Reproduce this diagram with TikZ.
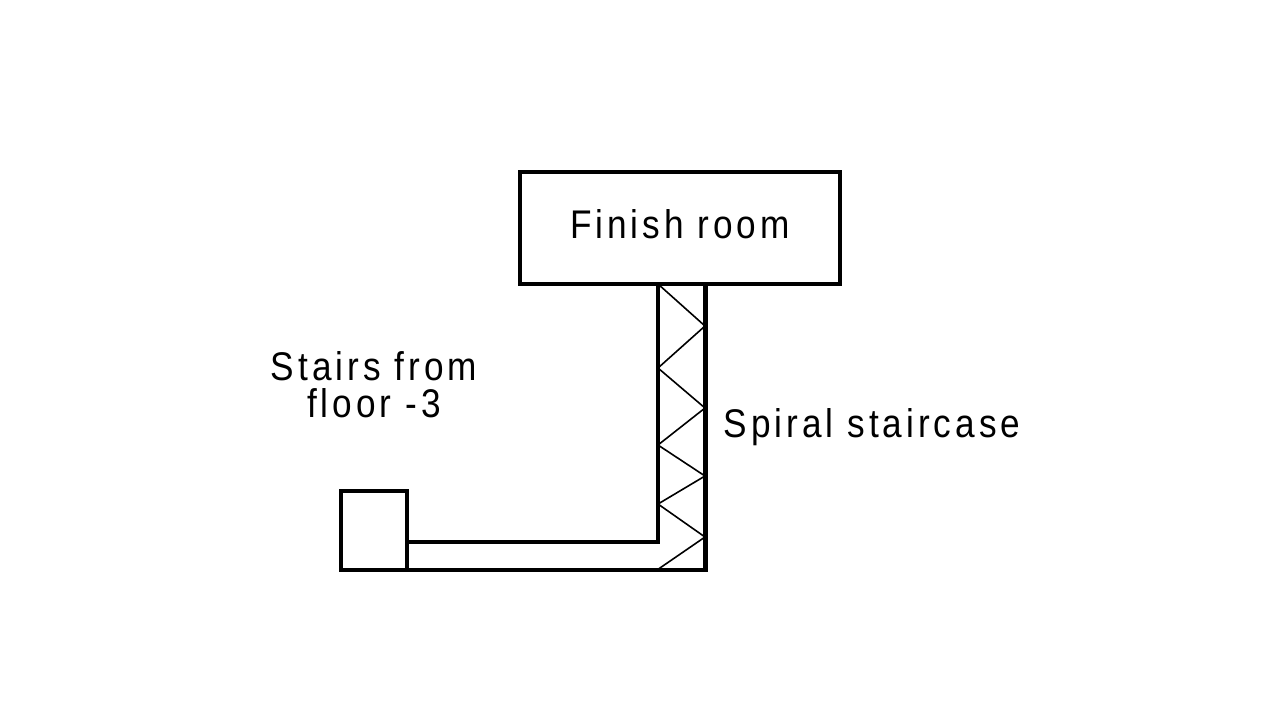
\documentclass[tikz,border=0pt]{standalone}
\usepackage{fontspec}
\setmainfont[LetterSpace=10,FakeStretch=0.88]{Liberation Sans}
\tikzset{
  wall/.style={line width=2.2pt},
  flight/.style={line width=0.8pt},
  lbl/.style={inner sep=0pt, font=\fontsize{20}{18.5}\selectfont, align=center}
}

\begin{document}
\begin{tikzpicture}[x=0.5pt,y=-0.5pt]
\useasboundingbox (0,0) rectangle (1280,720);
\coordinate (roomA) at (520,172);
\coordinate (roomB) at (840,284);
\coordinate (boxA) at (341,491);
\coordinate (boxB) at (407,570);
\coordinate (innerT) at (658,284);
\coordinate (innerB) at (658,542);
\coordinate (innerL) at (407,542);
\coordinate (outerT) at (705.5,284);
\coordinate (outerB) at (705.5,570);
% zigzag of the stairs
\coordinate (p1) at (705,326);
\coordinate (p2) at (658,368);
\coordinate (p3) at (705,408);
\coordinate (p4) at (658,445);
\coordinate (p5) at (705,476);
\coordinate (p6) at (658,504);
\coordinate (p7) at (705,537);
\coordinate (p8) at (657,570);
\draw[flight] (innerT)--(p1)--(p2)--(p3)--(p4)--(p5)--(p6)--(p7)--(p8);
\draw[wall] (roomA) rectangle (roomB);
\draw[wall] (boxA) rectangle (boxB);
\draw[wall] (innerT)--(innerB)--(innerL);
\draw[wall] (outerT)--(outerB)--(boxB);
\node[lbl] (room) at (680,224) {Finish room};
\node[lbl] (stairs) at (374,385) {Stairs from\\floor -3};
\node[lbl] (spiral) at (872,427) {Spiral staircase};
\end{tikzpicture}
\end{document}
